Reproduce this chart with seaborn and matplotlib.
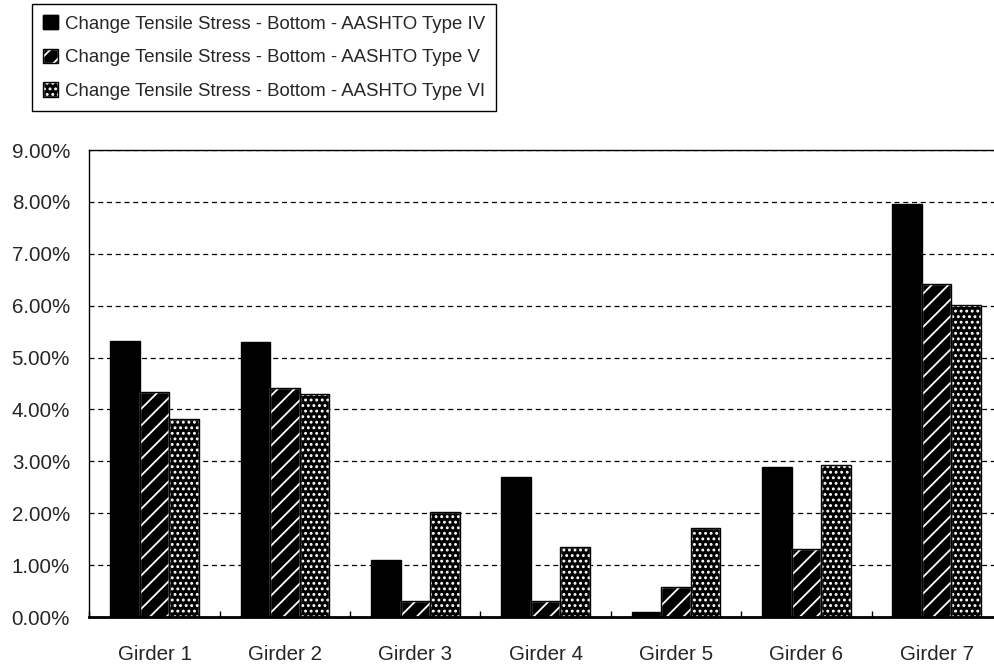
import matplotlib
matplotlib.use("Agg")
import matplotlib.pyplot as plt
import matplotlib.patches as mpatches
from matplotlib.legend_handler import HandlerTuple
from matplotlib.ticker import FixedLocator, FuncFormatter
import seaborn as sns
import pandas as pd

girders = ["Girder 1", "Girder 2", "Girder 3", "Girder 4", "Girder 5", "Girder 6", "Girder 7"]
type_iv = [5.32, 5.30, 1.10, 2.70, 0.10, 2.90, 7.95]
type_v = [4.34, 4.41, 0.31, 0.31, 0.58, 1.31, 6.41]
type_vi = [3.82, 4.29, 2.02, 1.34, 1.71, 2.92, 6.01]
series_names = [
    "Change Tensile Stress - Bottom - AASHTO Type IV",
    "Change Tensile Stress - Bottom - AASHTO Type V",
    "Change Tensile Stress - Bottom - AASHTO Type VI",
]
y_ticks = [0, 1, 2, 3, 4, 5, 6, 7, 8, 9]

df = pd.DataFrame({
    "girder": girders * 3,
    "value": type_iv + type_v + type_vi,
    "series": [series_names[0]] * 7 + [series_names[1]] * 7 + [series_names[2]] * 7,
})

sns.set_style("white")
plt.rcParams["font.family"] = ["Liberation Sans", "DejaVu Sans"]
plt.rcParams["hatch.linewidth"] = 1.3

fig = plt.figure(figsize=(9.95, 6.7), dpi=100)
ax = fig.add_axes([0.0899, 0.0791, 0.917, 0.697])

sns.barplot(data=df, x="girder", y="value", hue="series", hue_order=series_names,
            palette=["black"] * 3, saturation=1, width=0.68, gap=0,
            edgecolor="black", linewidth=1, legend=False, ax=ax)

# solid, diagonal stripes, and dotted fills (white pattern on black)
hatches = [None, "//", "..."]
for cont, h in zip(ax.containers, hatches):
    for p in cont.patches:
        p.set_facecolor("black")
        if h:
            p.set_hatch(h)
            p.set_edgecolor("white")
            ax.add_patch(mpatches.Rectangle((p.get_x(), p.get_y()), p.get_width(), p.get_height(),
                                            fill=False, edgecolor="black", linewidth=1,
                                            zorder=p.get_zorder() + 0.1))

ax.set_xlim(-0.5, 6.5)
ax.set_ylim(0, 9)
ax.set_yticks(y_ticks)
ax.yaxis.set_major_formatter(FuncFormatter(lambda v, _: f"{v:.2f}%"))
ax.grid(axis="y", color="black", linestyle=(0, (4, 3)), linewidth=0.9)
ax.set_axisbelow(True)
ax.set_xlabel("")
ax.set_ylabel("")

ax.xaxis.set_minor_locator(FixedLocator([i + 0.5 for i in range(-1, 7)]))
ax.tick_params(axis="x", which="major", length=0, pad=20, labelsize=14.8)
ax.tick_params(axis="x", which="minor", length=4, width=1, direction="in", color="black", bottom=True)
ax.tick_params(axis="y", length=0, pad=14, labelsize=14.8)

for side in ["left", "top", "right"]:
    ax.spines[side].set_color("black")
    ax.spines[side].set_linewidth(1)
ax.spines["bottom"].set_color("black")
ax.spines["bottom"].set_linewidth(2)

handles = []
for h in hatches:
    if h:
        fill = mpatches.Patch(facecolor="black", edgecolor="white", hatch=h)
    else:
        fill = mpatches.Patch(facecolor="black", edgecolor="black")
    outline = mpatches.Patch(fill=False, edgecolor="black", linewidth=1)
    handles.append((fill, outline))

leg = fig.legend(handles, series_names, handler_map={tuple: HandlerTuple(ndivide=1, pad=0)},
                 loc="upper left", bbox_to_anchor=(32 / 995, 1 - 4 / 670),
                 fontsize=13.4, frameon=True, fancybox=False, framealpha=1, edgecolor="black",
                 handlelength=0.8, handleheight=0.8, handletextpad=0.38, labelspacing=0.86,
                 borderpad=0.6, borderaxespad=0)
leg.get_frame().set_linewidth(1)

fig.savefig("out.png", dpi=100)
